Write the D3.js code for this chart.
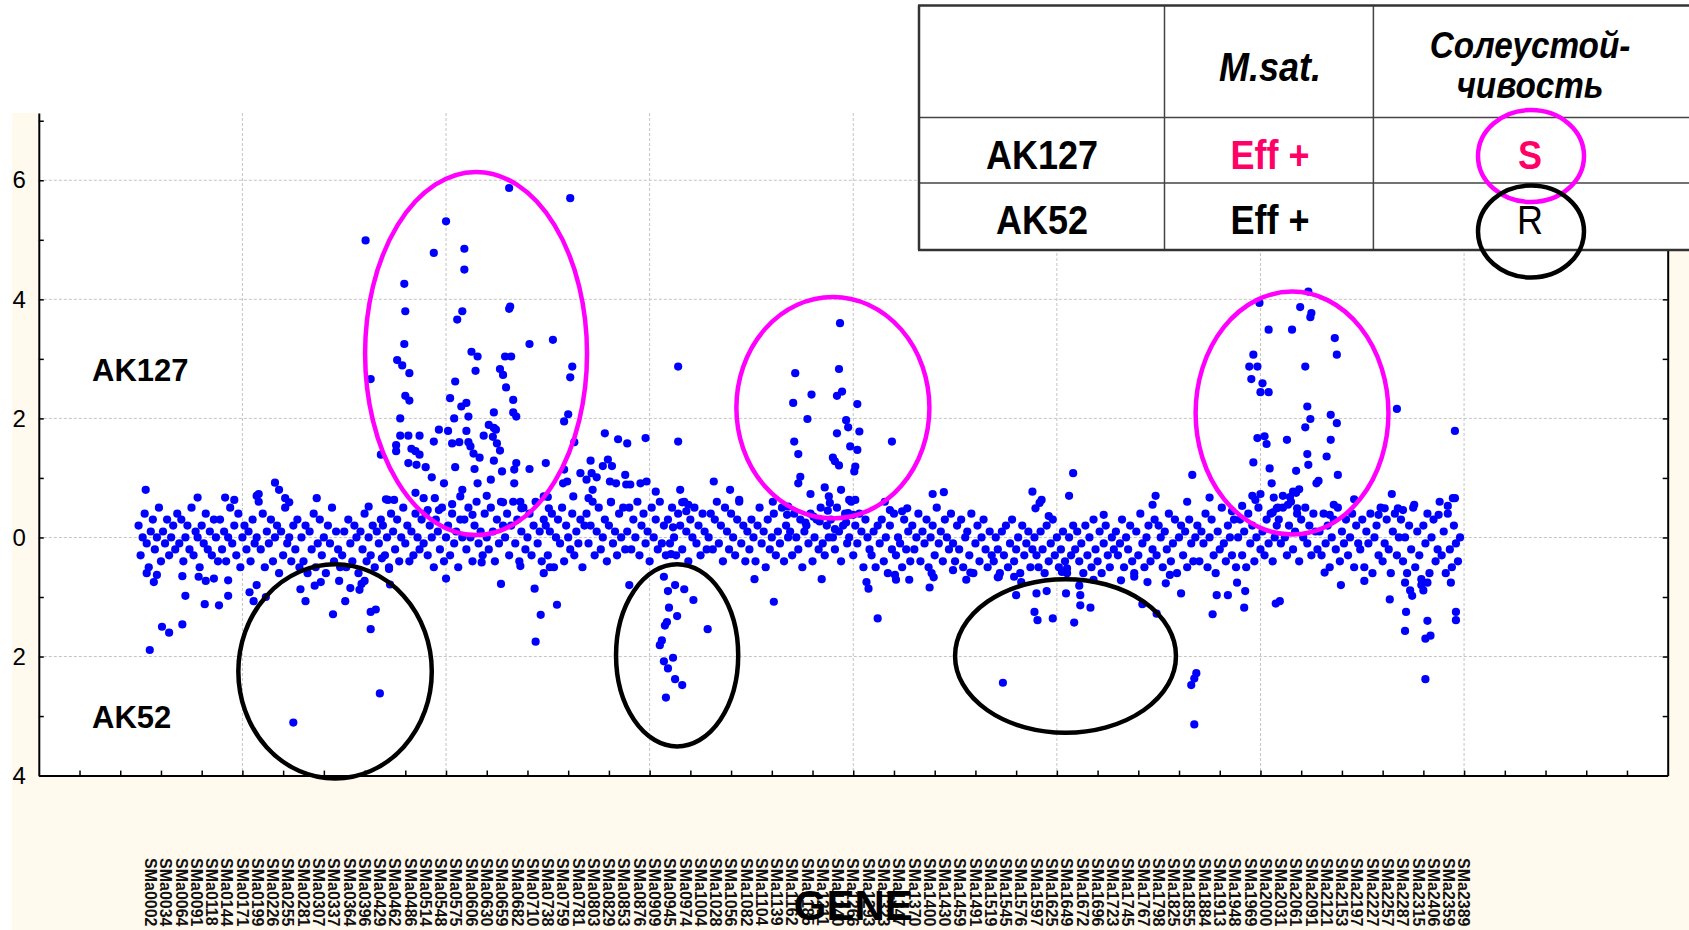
<!DOCTYPE html>
<html><head><meta charset="utf-8">
<script src="https://cdn.jsdelivr.net/npm/d3@7"></script>
<style>
html,body{margin:0;padding:0;background:#fff;}
svg{display:block;font-family:"Liberation Sans",Arial,Helvetica,sans-serif;}
</style></head><body>
<svg id="chart" width="1689" height="930"></svg>
<script>
// ---------------- DATA ----------------
// main band of points: one value (in tenths) every 2 cases starting at case 98
const bandStart = 98, bandStep = 2;
const bandTenths = [
 2,-3,0,4,-1,-5,1,3,-2,0,5,-4,1,-1,3,-3,0,2,-2,4,
 -1,3,-4,0,2,-2,5,-3,1,0,-5,2,-1,4,-2,1,-3,3,0,-4,
 3,-2,1,-4,0,5,-1,2,-3,4,-5,0,2,-2,1,-4,3,-1,0,6,
 -2,4,-5,1,-1,3,-4,0,2,-6,1,-3,5,-1,0,-4,2,-2,3,-5,
 0,-4,2,-6,1,-2,4,-5,-1,3,-3,0,-6,2,-1,5,-4,1,-2,-5,
 -3,1,-5,3,-1,-4,2,0,-6,1,-2,4,-4,0,-3,2,-5,1,-1,3,
 2,-3,0,-5,4,1,-2,3,-4,0,5,-1,2,-4,1,-3,4,0,-2,3,
 -1,4,-3,2,0,-5,3,1,-2,5,-4,0,2,-3,4,-1,1,-5,3,0,
 3,-2,5,0,-4,2,6,-1,1,-3,4,0,-2,5,1,-4,3,-1,6,2,
 0,4,-3,2,6,-1,3,-4,1,5,-2,0,4,-3,2,6,-1,1,-4,3,
 2,-3,1,4,-5,0,3,-1,5,-4,2,0,-2,4,-3,1,-1,3,-5,2,
 4,-1,2,6,-3,1,5,-2,0,3,-4,2,6,-1,1,-3,4,0,5,-2,
 1,5,-2,3,0,6,-3,2,4,-1,1,-4,5,0,3,-2,6,-1,2,-3,
 3,-1,5,0,-3,4,2,-2,6,1,-4,3,0,5,-1,2,-3,4,1,-2,
 0,4,-2,3,6,-1,2,-4,5,1,-2,4,0,-3,3,6,-1,2,-4,1,
 -2,3,0,-4,2,5,-1,1,-5,3,-2,0,4,-3,1,-1,5,-4,2,0,
 1,-3,4,0,-2,3,-5,1,2,-1,4,-4,0,3,-2,5,-1,-3,2,0,
 3,0,-2,5,1,-4,2,4,-1,0,6,-3,2,-1,4,1,-5,3,0,-2,
 -3,1,-5,2,-1,3,-4,0,-6,2,-2,4,-3,0,-1,-5,3,-2,1,-4,
 2,-2,0,4,-4,1,-1,3,-5,0,2,-3,5,-1,1,-4,3,0,-2,4,
 -1,-4,2,-2,3,-5,0,1,-3,4,-6,-1,2,-4,0,3,-2,-5,1,-3,
 -4,0,-2,-6,1,-3,2,-5,-1,3,-4,-2,0,-6,2,-3,-1,1,-5,-2,
 0,-3,-5,1,-2,-6,2,-4,-1,3,-3,0,-5,-2,1,-4,-6,0,-3,2,
 -2,1,-4,-1,-6,2,-3,0,-5,3,-2,-4,1,-6,-1,2,-3,-5,0,-2,
 1,-3,-1,3,-5,0,-2,2,-4,-6,1,-3,4,-1,-5,0,2,-4,-2,3,
 -3,2,0,-5,1,-2,4,-4,-1,3,-6,0,2,-3,1,-5,3,-1,-4,0,
 2,-4,1,-1,4,-5,0,3,-3,-6,1,-2,5,-1,-4,2,0,-3,3,-5,
 0,3,-3,1,-5,4,-1,2,-4,0,5,-2,1,-3,3,-1,4,-4,0,2,
 3,-1,5,0,-3,2,6,-2,1,4,-4,3,0,5,-1,2,-3,4,1,-2,
 1,-3,4,-1,2,-5,0,3,-2,5,-4,1,-1,3,-3,0,4,-5,2,-1,
 -2,3,-5,1,-1,4,-6,0,2,-3,5,-4,-1,3,-2,-6,1,4,-3,0,
 3,-4,0,-6,2,-2,5,-5,1,-3,-7,2,-1,4,-6,0,3,-4,-2,6,
 -3,1,-6,4,-2,-5,2,-1,-4,0
];
// individual points: [case, value]
const extraPoints = [
 [105,.80],[106,-.60],[109,-1.89],[113,-.75],[116,-.63],[121,-1.50],[128,-1.60],[141,-1.46],[141,-.65],[144,-.98],
 [156,.67],[157,-.66],[163,-1.12],[164,-.73],[172,-.69],[177,-1.14],[183,.67],[186,-.98],[186,-.72],[192,.63],
 [207,-.92],[211,-1.07],[214,.70],[214,-.80],[216,.73],[223,-1.00],[232,.92],[236,.80],[242,.66],[246,.59],
 [250,-3.11],[257,-.87],[262,-1.07],[271,-.81],[273,.66],[277,-.75],[289,-1.29],[295,-.73],[301,-1.07],[306,-.85],
 [315,-.88],[317,-.78],[320,-.73],[321,4.99],[324,.52],[326,-1.25],[326,-1.54],[326,2.66],[331,-1.21],[335,-2.62],
 [336,1.39],[337,-.35],[341,.64],[343,.63],[344,-.53],[345,-.79],[349,.63],[351,1.55],[351,1.45],[352,2.98],
 [355,2.00],[355,1.71],[357,2.89],[359,4.26],[359,3.25],[360,3.80],[360,2.38],[363,1.71],[363,1.25],[364,2.76],
 [364,2.30],[366,1.49],[370,1.45],[370,.75],[371,1.22],[374,1.71],[374,1.39],[378,.66],[380,1.18],[382,.46],
 [386,1.01],[388,4.78],[388,1.61],[389,.66],[393,1.81],[393,.46],[398,.91],[400,5.31],[400,-.69],[402,1.79],
 [404,2.34],[406,1.58],[406,.56],[408,2.00],[409,2.62],[409,1.18],[411,3.66],[413,1.60],[414,.69],[415,2.20],
 [416,3.80],[416,.80],[418,4.85],[418,4.50],[420,2.26],[420,1.79],[422,2.03],[422,1.60],[424,1.53],[425,3.12],
 [426,.38],[427,1.41],[428,1.15],[429,2.80],[431,3.04],[431,.91],[433,1.34],[435,-.42],[437,1.71],[440,.70],
 [442,1.89],[444,.97],[446,1.69],[447,2.10],[447,1.84],[447,1.29],[449,1.81],[450,1.58],[453,2.83],[453,1.46],
 [454,-.78],[455,1.11],[456,2.73],[456,.59],[458,3.04],[459,2.52],[462,5.87],[462,3.84],[463,3.88],[464,3.04],
 [466,2.31],[466,2.10],[467,1.14],[467,.91],[469,2.03],[469,1.25],[473,-.48],[473,.60],[474,.49],[482,3.25],
 [482,1.15],[487,-.86],[488,-1.75],[493,-1.30],[496,-.60],[496,.69],[498,1.25],[500,.68],[501,.49],[502,-.50],
 [505,3.32],[509,-1.13],[515,.91],[516,1.95],[516,1.14],[519,.94],[520,2.07],[522,5.70],[522,2.69],[524,2.87],
 [525,.69],[526,1.60],[532,1.08],[538,.97],[540,.66],[542,1.29],[543,1.08],[544,.80],[548,1.01],[554,1.20],
 [556,1.75],[559,1.31],[561,.94],[562,.59],[563,1.20],[567,.91],[569,1.65],[576,1.05],[577,.89],[578,1.58],
 [580,-.80],[581,.89],[591,.91],[596,1.67],[597,.94],[606,.77],
 [610,-1.81],[612,-1.73],[614,-.66],[614,-2.08],[615,-1.48],[616,-2.69],[617,-1.42],[618,-.90],[618,-2.20],[619,-1.18],
 [621,-.28],[623,.17],[623,-2.02],[625,-.80],[625,-2.38],[627,-1.32],[628,2.87],[628,1.61],[630,.80],[632,.59],
 [632,-2.48],[634,-.87],[636,.44],[638,.55],[643,-1.05],[657,-1.54],[663,.94],[679,.80],[688,.63],[703,-.70],
 [721,.60],[722,-1.08],[735,.38],[736,.52],[741,2.26],[742,1.61],[743,2.76],[746,1.40],[746,.91],[748,1.02],
 [753,.25],[755,1.99],[758,.73],[759,2.40],[761,.35],[767,.27],[769,-.70],[772,.84],[775,.45],[776,.69],
 [777,.58],[780,1.34],[782,.14],[782,1.28],[784,2.38],[784,1.75],[786,2.83],[786,1.21],[787,3.60],[788,.80],
 [789,2.45],[793,1.97],[793,.25],[795,1.85],[795,.41],[796,.63],[797,1.53],[800,.38],[801,1.11],[802,1.19],
 [802,.63],[804,2.24],[804,1.47],[806,1.78],[813,-.75],[815,-.86],[824,-1.36],[831,.60],[836,.46],[838,1.61],
 [841,-.63],[842,-.71],[848,.44],[853,.49],[855,-.71],[875,-.84],[877,-.60],[878,.73],[879,-.67],[889,.76],
 [898,-.55],[911,-.71],[915,-.59],[942,-.67],[943,-.66],[947,-2.44],[958,-.66],[960,-.97],[965,-.75],[976,.77],
 [978,-1.25],[979,.49],[980,-.94],[981,-1.39],[983,.58],[985,.63],[990,-.90],[992,.36],[996,-1.36],[1005,-.58],
 [1009,-.94],[1010,-.52],[1012,.70],[1016,1.08],[1017,-1.43],[1022,-.81],[1023,-.97],[1023,-1.14],[1033,-1.18],[1036,-.71],
 [1046,.38],[1063,-.72],[1076,-.66],[1084,-1.12],[1089,-.75],[1094,.55],[1097,.70],[1098,-1.28],[1107,-.77],[1111,-.63],
 [1122,-.94],[1128,.60],[1132,-2.48],[1133,1.05],[1135,-2.37],[1135,-3.14],[1137,-2.28],[1150,.67],[1153,-1.29],[1157,-.97],
 [1168,-.97],[1172,.44],[1177,-.76],[1182,.53],[1184,-1.18],[1185,-.90],[1189,2.87],[1191,2.66],[1192,.70],[1193,3.07],
 [1193,1.26],[1195,.63],[1197,2.87],[1197,1.67],[1199,3.94],[1200,2.44],[1200,.73],[1202,2.59],[1204,1.70],[1206,1.57],
 [1208,3.49],[1208,2.44],[1209,1.16],[1211,.91],[1212,.42],[1213,.67],[1215,-1.11],[1216,.49],[1217,.50],[1219,-1.07],
 [1222,.70],[1226,1.64],[1227,.55],[1229,.68],[1231,3.49],[1232,.77],[1235,1.12],[1235,.75],[1236,.49],[1238,.81],
 [1239,3.87],[1244,2.87],[1244,1.85],[1246,2.20],[1246,1.40],[1247,4.13],[1247,1.22],[1249,3.70],[1249,1.99],[1250,3.77],
 [1255,.91],[1257,.95],[1263,-.59],[1265,1.36],[1268,.38],[1269,2.06],[1269,1.64],[1272,.55],[1273,3.35],[1275,3.07],
 [1275,1.92],[1276,1.05],[1279,-.80],[1292,.64],[1302,-.73],[1316,.38],[1322,.49],[1327,-1.04],[1329,.73],[1334,2.16],
 [1335,.49],[1340,.46],[1342,-1.57],[1342,-.76],[1343,-1.25],[1347,-.89],[1349,-.98],[1351,.55],[1358,-.80],[1360,-.89],
 [1362,-1.70],[1362,-2.38],[1364,-1.40],[1364,-.76],[1367,-1.65],[1375,.38],[1384,.53],[1387,-.76],[1389,.66],[1391,.66],
 [1391,1.79],[1392,-1.25],[1392,-1.39]
];
// gene tick labels, one every 15 cases starting at case 110
const labelStartCase = 110, labelStep = 15;
const geneLabels = ["SMa0002","SMa0034","SMa0064","SMa0091","SMa0118","SMa0144","SMa0171","SMa0199","SMa0226","SMa0255",
 "SMa0281","SMa0307","SMa0337","SMa0364","SMa0396","SMa0429","SMa0462","SMa0486","SMa0514","SMa0548",
 "SMa0575","SMa0606","SMa0630","SMa0659","SMa0682","SMa0710","SMa0738","SMa0759","SMa0781","SMa0803",
 "SMa0829","SMa0853","SMa0876","SMa0909","SMa0945","SMa0974","SMa1004","SMa1028","SMa1056","SMa1082",
 "SMa1104","SMa1139","SMa1162","SMa1185","SMa1211","SMa1240","SMa1266","SMa1293","SMa1323","SMa1347",
 "SMa1370","SMa1400","SMa1430","SMa1459","SMa1491","SMa1519","SMa1545","SMa1576","SMa1597","SMa1625",
 "SMa1649","SMa1672","SMa1696","SMa1723","SMa1745","SMa1767","SMa1798","SMa1825","SMa1855","SMa1884",
 "SMa1913","SMa1948","SMa1969","SMa2000","SMa2031","SMa2061","SMa2091","SMa2121","SMa2153","SMa2197",
 "SMa2227","SMa2257","SMa2287","SMa2315","SMa2406","SMa2359","SMa2389"];
const yTickValues = [-4,-3,-2,-1,0,1,2,3,4,5,6,7];
const yTickLabels = ["4","","2","","0","","2","","4","","6",""];
const yGridValues = [-2,0,2,4,6];
const xGridValues = [200,400,600,800,1000,1200,1400];
const xDomain = [0,1600], yDomain = [-4,7.13];
// annotation ellipses: centre (case, value), radii (cases, value units)
const ellipses = [
 {c:429.5,v:3.09,rc:109,rv:3.05,color:"#ff00ff"},
 {c:780,v:2.18,rc:94.8,rv:1.86,color:"#ff00ff"},
 {c:1231,v:2.09,rc:94.7,rv:2.04,color:"#ff00ff"},
 {c:291,v:-2.25,rc:95,rv:1.80,color:"#000"},
 {c:627,v:-1.98,rc:60,rv:1.53,color:"#000"},
 {c:1008.5,v:-1.99,rc:108.5,rv:1.29,color:"#000"}
];
const tableHeader = ["", "M.sat.", ["Солеустой-","чивость"]];
const tableRows = [["AK127","Eff +","S"],["AK52","Eff +","R"]];

// ---------------- DRAW ----------------
const W=1689,H=930;
const plot={left:38.8,right:1667.7,top:113,bottom:775.6};
const beige="#fff9ee";
const svg=d3.select("#chart");
svg.append("rect").attr("width",W).attr("height",H).attr("fill","#fff");
svg.append("rect").attr("x",12).attr("y",plot.top).attr("width",W-12).attr("height",H-plot.top).attr("fill",beige);
svg.append("rect").attr("x",plot.left).attr("y",plot.top).attr("width",plot.right-plot.left).attr("height",plot.bottom-plot.top).attr("fill","#fff");

const x=d3.scaleLinear().domain(xDomain).range([plot.left,plot.right]);
const y=d3.scaleLinear().domain(yDomain).range([plot.bottom,plot.top]);

// grid
const grid=svg.append("g").attr("stroke","#c4c4c4").attr("stroke-width",1).attr("stroke-dasharray","3,2");
grid.selectAll("line.gx").data(xGridValues).join("line").attr("x1",d=>x(d)).attr("x2",d=>x(d)).attr("y1",plot.top).attr("y2",plot.bottom);
grid.selectAll("line.gy").data(yGridValues).join("line").attr("y1",d=>y(d)).attr("y2",d=>y(d)).attr("x1",plot.left).attr("x2",plot.right);

// axes
function styleAxis(g){
  g.select(".domain").attr("stroke","#000").attr("stroke-width",2);
  g.selectAll(".tick line").attr("stroke","#000").attr("stroke-width",1.5);
  g.selectAll(".tick text").attr("fill","#000").attr("font-size",24).attr("font-family","Liberation Sans, Arial, sans-serif");
}
svg.append("g").attr("transform",`translate(0,${plot.bottom})`)
  .call(d3.axisBottom(x).tickValues(d3.range(40,1600,40)).tickSizeInner(-5).tickSizeOuter(0).tickFormat(""))
  .call(styleAxis);
svg.append("g").attr("transform",`translate(${plot.right},0)`)
  .call(d3.axisRight(y).tickValues(yTickValues).tickSizeInner(-5).tickSizeOuter(0).tickFormat(""))
  .call(styleAxis);
svg.append("g").attr("transform",`translate(${plot.left},0)`)
  .call(d3.axisLeft(y).tickValues(yTickValues).tickSizeInner(-5).tickSizeOuter(0).tickPadding(13).tickFormat((d,i)=>yTickLabels[i]))
  .call(styleAxis);

// points
const points=bandTenths.map((t,i)=>[bandStart+bandStep*i,t/10]).concat(extraPoints);
svg.append("g").selectAll("circle").data(points).join("circle")
  .attr("cx",d=>x(d[0])).attr("cy",d=>y(d[1])).attr("r",4.1).attr("fill","#0000ff");

// side labels
svg.append("text").attr("x",92).attr("y",381).attr("font-size",31).attr("font-weight","bold").text("AK127");
svg.append("text").attr("x",92).attr("y",728).attr("font-size",31).attr("font-weight","bold").text("AK52");

// ellipses
svg.append("g").selectAll("ellipse").data(ellipses).join("ellipse")
  .attr("cx",d=>x(d.c)).attr("cy",d=>y(d.v))
  .attr("rx",d=>x(d.c+d.rc)-x(d.c)).attr("ry",d=>y(d.v-d.rv)-y(d.v))
  .attr("fill","none").attr("stroke",d=>d.color).attr("stroke-width",4.5);

// gene labels
const lab=svg.append("g");
lab.selectAll("text").data(geneLabels).join("text")
  .attr("transform",(d,i)=>`translate(${x(labelStartCase+labelStep*i)},858) rotate(90)`)
  .attr("dy","0.36em").attr("font-size",16).attr("font-weight","bold").attr("fill","#111").text(d=>d);
svg.append("text").attr("x",(plot.left+plot.right)/2).attr("y",920).attr("text-anchor","middle")
  .attr("font-size",42).attr("font-weight","bold").text("GENE");

// table
const tb=svg.append("g");
const colX=[919,1164.5,1373.4,1700], rowY=[5.4,117.4,183,250];
tb.append("rect").attr("x",colX[0]).attr("y",rowY[0]).attr("width",1700-colX[0]).attr("height",rowY[3]-rowY[0]).attr("fill","#fff");
[rowY[1],rowY[2]].forEach(v=>tb.append("line").attr("x1",colX[0]).attr("x2",1700).attr("y1",v).attr("y2",v).attr("stroke","#444").attr("stroke-width",1.5));
[colX[1],colX[2]].forEach(v=>tb.append("line").attr("x1",v).attr("x2",v).attr("y1",rowY[0]).attr("y2",rowY[3]).attr("stroke","#444").attr("stroke-width",1.5));
[rowY[0],rowY[3]].forEach(v=>tb.append("line").attr("x1",colX[0]-1).attr("x2",1700).attr("y1",v).attr("y2",v).attr("stroke","#333").attr("stroke-width",2.5));
tb.append("line").attr("x1",colX[0]).attr("x2",colX[0]).attr("y1",rowY[0]).attr("y2",rowY[3]).attr("stroke","#333").attr("stroke-width",2.5);
function cellText(t,cx,by,opts){
  const g=tb.append("g").attr("transform",`translate(${cx},${by}) scale(0.9,1)`);
  g.append("text").attr("text-anchor","middle").attr("font-size",opts.s||40)
   .attr("font-weight",opts.w||"bold").attr("font-style",opts.i?"italic":"normal")
   .attr("fill",opts.c||"#000").text(t);
}
const colC=[1042,1270,1530];
cellText(tableHeader[1],colC[1],81,{i:true});
cellText(tableHeader[2][0],colC[2],58,{i:true,s:37});
cellText(tableHeader[2][1],colC[2],98,{i:true,s:37});
cellText(tableRows[0][0],colC[0],169,{});
cellText(tableRows[0][1],colC[1],169,{c:"#ff0066"});
cellText(tableRows[0][2],colC[2],169,{c:"#ff0066"});
cellText(tableRows[1][0],colC[0],234,{});
cellText(tableRows[1][1],colC[1],234,{});
cellText(tableRows[1][2],colC[2],234,{w:"normal"});
tb.append("ellipse").attr("cx",1531).attr("cy",156).attr("rx",53).attr("ry",46).attr("fill","none").attr("stroke","#ff00ff").attr("stroke-width",4.5);
tb.append("ellipse").attr("cx",1531).attr("cy",231.5).attr("rx",53).attr("ry",46).attr("fill","none").attr("stroke","#000").attr("stroke-width",4.5);
</script>
</body></html>
